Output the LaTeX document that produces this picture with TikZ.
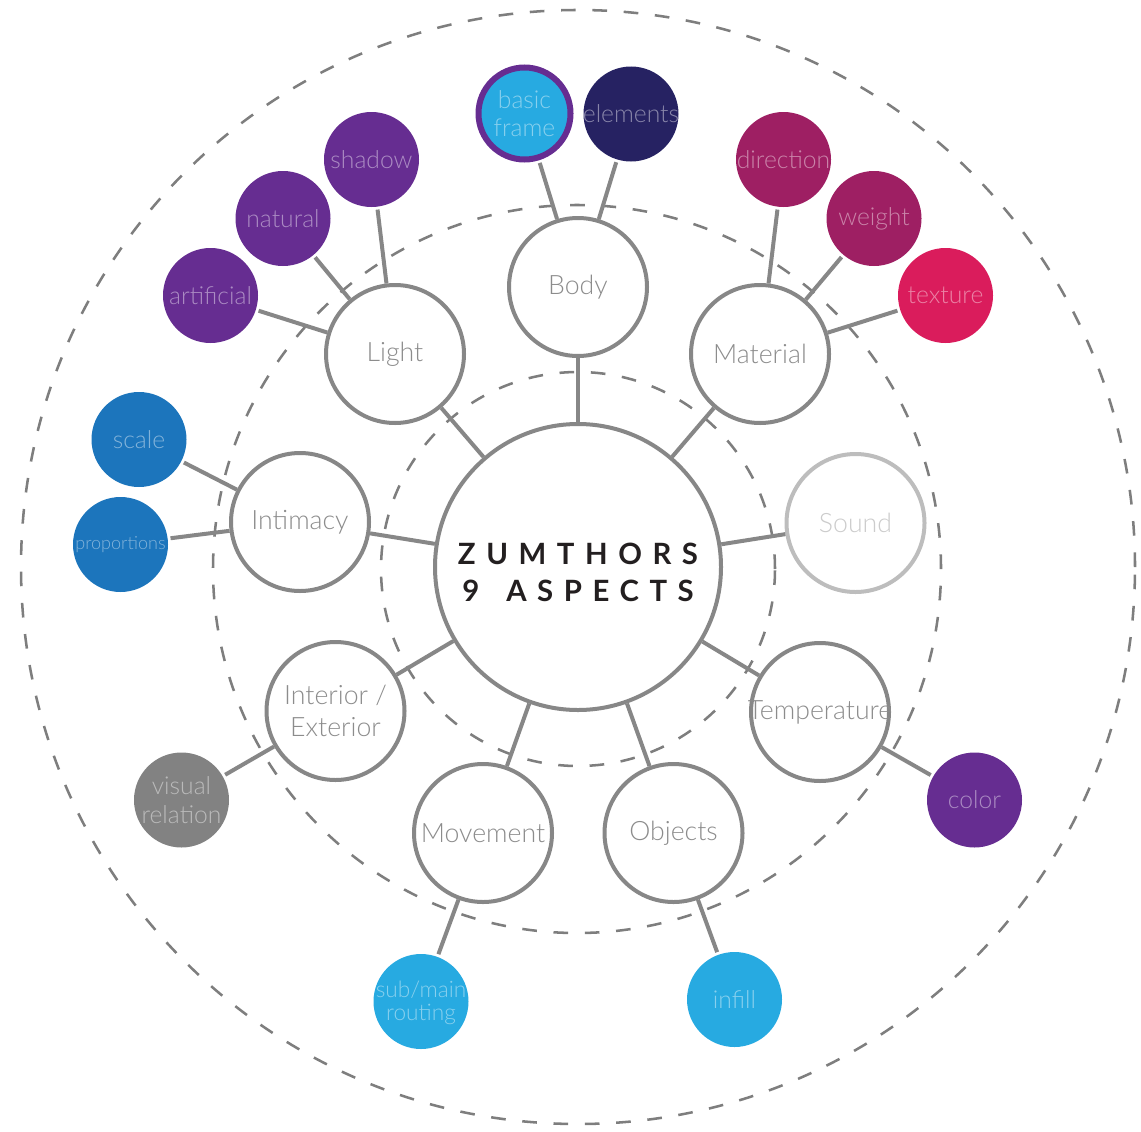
\documentclass[tikz,border=0pt]{standalone}
\usepackage{fontspec}
\setmainfont{Lato}
\newfontfamily\lightfont{Lato Light}
\newfontfamily\titlefont[LetterSpace=36]{Lato}
\definecolor{linegray}{HTML}{878787}
\definecolor{dashgray}{HTML}{7E7E7E}
\definecolor{asptext}{HTML}{8C8C8C}
\definecolor{soundline}{HTML}{BDBDBD}
\definecolor{soundtext}{HTML}{CCCCCC}
\definecolor{zpurple}{HTML}{662D91}
\definecolor{zmagenta}{HTML}{9E1F63}
\definecolor{zpink}{HTML}{DA1C5C}
\definecolor{zblue}{HTML}{1C75BC}
\definecolor{zcyan}{HTML}{27AAE1}
\definecolor{znavy}{HTML}{262262}
\definecolor{zgray}{HTML}{828282}
\definecolor{titleblack}{HTML}{231F20}
\begin{document}
\begin{tikzpicture}[x=0.75pt,y=-0.75pt,
  dashring/.style={draw=dashgray, line width=1.9pt, dash pattern=on 11pt off 12.5pt},
  asp/.style={circle, draw=linegray, line width=3pt, minimum size=103.5pt, inner sep=-20pt,
    fill=white, text=asptext, align=center, font=\lightfont\fontsize{20}{24}\selectfont},
  sat/.style={circle, fill=#1, text=white!45!#1, minimum size=71.25pt, inner sep=-30pt,
    align=center, font=\lightfont\fontsize{18.5}{21}\selectfont},
  conn/.style={draw=linegray, line width=3pt},
  sconn/.style={draw=linegray, line width=3pt, shorten <=2pt}]
\useasboundingbox (0,0) rectangle (1141,1131);
% dashed rings
\draw[dashring] (578,567) circle[radius=557*0.75pt];
\draw[dashring] (577,569) circle[radius=364*0.75pt];
\draw[dashring] (578,569) circle[radius=197*0.75pt];
% center
\node[circle, draw=linegray, line width=3pt, minimum size=214.5pt, inner sep=0pt, fill=white]
  (center) at (578,567) {};
\node[text=titleblack, align=center, font=\titlefont\bfseries\fontsize{22}{27.75}\selectfont]
  (title) at (578,572) {ZUMTHORS\\9\hspace{7pt} ASPECTS};
% aspects
\node[asp] (body) at (578,287) {Body};
\node[asp] (light) at (395,354) {Light};
\node[asp] (material) at (760,354) {Material};
\node[asp] (intimacy) at (300,522) {Intimacy};
\node[asp, draw=soundline, text=soundtext] (sound) at (855.5,523) {Sound};
\node[asp] (interior) at (335.5,711) {Interior /\\Exterior};
\node[asp] (temperature) at (820,712) {Temperature};
\node[asp] (movement) at (483,833) {Movement};
\node[asp] (objects) at (673.5,833) {Objects};
% satellites
\node[sat=zcyan, draw=zpurple, line width=4.5pt, minimum size=69pt] (basic) at (524.5,113.5) {basic\\frame};
\node[sat=znavy] (elements) at (631,114) {elements};
\node[sat=zpurple] (shadow) at (371.5,159.5) {shadow};
\node[sat=zpurple] (natural) at (283,218.5) {natural};
\node[sat=zpurple] (artificial) at (210.5,295.5) {artificial};
\node[sat=zmagenta] (direction) at (783.5,159.5) {direction};
\node[sat=zmagenta] (weight) at (874,218.5) {weight};
\node[sat=zpink] (texture) at (945.5,295.5) {texture};
\node[sat=zblue] (scale) at (139,439.5) {scale};
\node[sat=zblue, font=\lightfont\fontsize{13.5}{16}\selectfont] (proportions) at (120.5,544.5) {proportions};
\node[sat=zgray, font=\lightfont\fontsize{18.5}{22}\selectfont] (visual) at (181.5,800) {visual\\relation};
\node[sat=zcyan, font=\lightfont\fontsize{17}{19}\selectfont] (routing) at (421,1001.5)
  {\raisebox{-12.5pt}{\smash{\begin{tabular}{@{}c@{}}sub/main\\[-1.5pt]routing\end{tabular}}}};
\node[sat=zcyan] (infill) at (734.5,999.5) {infill};
\node[sat=zpurple] (color) at (974.5,800) {color};
% main connectors
\foreach \n in {body,light,material,intimacy,sound,interior,temperature,movement,objects}
  \draw[conn] (center) -- (\n);
% satellite connectors
\draw[sconn] (basic) -- (body);
\draw[sconn] (elements) -- (body);
\draw[sconn] (shadow) -- (light);
\draw[sconn] (natural) -- (light);
\draw[sconn] (artificial) -- (light);
\draw[sconn] (direction) -- (material);
\draw[sconn] (weight) -- (material);
\draw[sconn] (texture) -- (material);
\draw[sconn] (scale) -- (intimacy);
\draw[sconn] (proportions) -- (intimacy);
\draw[sconn] (visual) -- (interior);
\draw[sconn] (routing) -- (movement);
\draw[sconn] (infill) -- (objects);
\draw[sconn] (color) -- (temperature);
\end{tikzpicture}
\end{document}
